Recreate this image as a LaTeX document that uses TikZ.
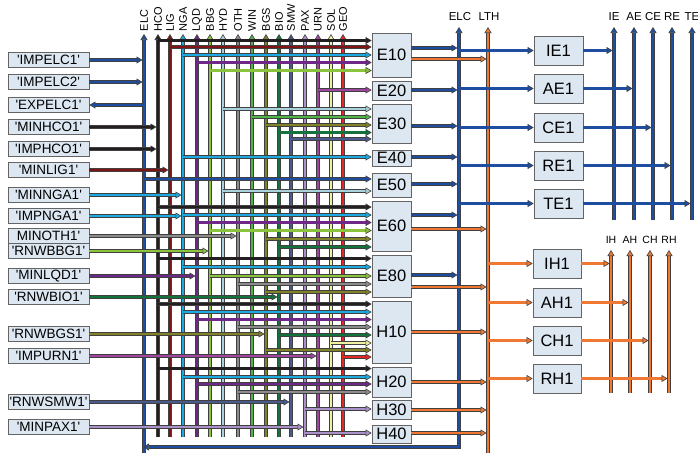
\documentclass[tikz,border=0pt]{standalone}
\usepackage{fontspec}
\setmainfont{Liberation Sans}[Ligatures=TeXOff]
\usetikzlibrary{arrows.meta}
\definecolor{cELC}{RGB}{31,78,160}
\colorlet{cELCR}{cELC}
\definecolor{cHCO}{RGB}{35,31,32}
\definecolor{cLIG}{RGB}{128,20,20}
\definecolor{cNGA}{RGB}{30,170,225}
\definecolor{cLQD}{RGB}{110,40,135}
\definecolor{cBBG}{RGB}{140,195,60}
\definecolor{cHYD}{RGB}{170,210,220}
\definecolor{cOTH}{RGB}{140,140,140}
\definecolor{cWIN}{RGB}{80,180,70}
\definecolor{cBGS}{RGB}{130,130,40}
\definecolor{cBIO}{RGB}{20,115,60}
\definecolor{cSMW}{RGB}{75,90,140}
\definecolor{cPAX}{RGB}{170,145,200}
\definecolor{cURN}{RGB}{160,70,160}
\definecolor{cSOL}{RGB}{240,240,160}
\definecolor{cGEO}{RGB}{230,40,40}
\definecolor{cLTH}{RGB}{240,120,50}
\colorlet{cIE}{cELC}\colorlet{cAE}{cELC}\colorlet{cCE}{cELC}\colorlet{cRE}{cELC}\colorlet{cTE}{cELC}
\colorlet{cIH}{cLTH}\colorlet{cAH}{cLTH}\colorlet{cCH}{cLTH}\colorlet{cRH}{cLTH}
\definecolor{boxfill}{RGB}{221,231,242}
\definecolor{boxline}{RGB}{100,100,100}
\tikzset{
  flow/.style={draw=black!75, line width=0.7pt, double=#1, double distance=2.1pt,
    -{Triangle[length=6pt,width=7pt,fill=#1,line width=0.6pt]}},
  busline/.style={draw=black!75, line width=0.7pt, double=#1, double distance=2.1pt},
  busup/.style={busline=#1, -{Triangle[length=6pt,width=7pt,fill=#1,line width=0.6pt]}},
  srcbox/.style={draw=boxline, fill=boxfill, line width=0.8pt, minimum width=81pt,
    minimum height=15pt, inner sep=0pt, font=\fontsize{13.5}{13.5}\selectfont},
  procbox/.style={draw=boxline, fill=boxfill, line width=0.8pt, minimum width=39pt,
    inner sep=0pt, font=\fontsize{16.5}{16.5}\selectfont},
  dembox/.style={draw=boxline, fill=boxfill, line width=0.8pt, minimum width=49pt,
    minimum height=29pt, inner sep=0pt, font=\fontsize{16.5}{16.5}\selectfont},
  buslabel/.style={font=\fontsize{11}{11}\selectfont, rotate=90, anchor=west, inner sep=0pt},
  toplabel/.style={font=\fontsize{11.5}{11.5}\selectfont, inner sep=0pt},
}
\newcommand\pin[3]{\draw[flow=c#1] (#1 |- 0,#3) -- (#2.west |- 0,#3);}
\newcommand\pout[3]{\draw[flow=c#1, shorten >=1.5pt] (#2.east |- 0,#3) -- (#1 |- 0,#3);}
\newcommand\src[2]{\draw[flow=c#2, shorten >=1.5pt] (#1.east) -- (#1.east -| #2);}
\begin{document}
\begin{tikzpicture}[x=1pt,y=-1pt]
\useasboundingbox (0,0) rectangle (698,453);
% commodity buses (left)
\foreach \n/\x in {ELC/144,HCO/158,LIG/170,NGA/183,LQD/197,BBG/210,HYD/223,OTH/238,WIN/252,BGS/266,BIO/279,SMW/291,PAX/305,URN/318,SOL/331,GEO/343}
  \coordinate (\n) at (\x,34);
% right buses
\coordinate (ELCR) at (459,27);
\coordinate (LTH) at (488,27);
\foreach \n/\x in {IE/614,AE/634,CE/653,RE/672,TE/692} \coordinate (\n) at (\x,27);
\foreach \n/\x in {IH/611,AH/630,CH/650,RH/669} \coordinate (\n) at (\x,250);

% source boxes
\foreach \n/\t/\y in {sIMPELC1/'IMPELC1'/60, sIMPELC2/'IMPELC2'/82, sEXPELC1/'EXPELC1'/105,
  sMINHCO1/'MINHCO1'/127, sIMPHCO1/'IMPHCO1'/149, sMINLIG1/'MINLIG1'/170,
  sMINNGA1/'MINNGA1'/195, sIMPNGA1/'IMPNGA1'/216, sMINOTH1/MINOTH1'/236,
  sRNWBBG1/'RNWBBG1'/251, sMINLQD1/'MINLQD1'/276, sRNWBIO1/'RNWBIO1'/297,
  sRNWBGS1/'RNWBGS1'/334, sIMPURN1/'IMPURN1'/356, sRNWSMW1/'RNWSMW1'/402,
  sMINPAX1/'MINPAX1'/427}
  \node[srcbox] (\n) at (48.5,\y) {\t};

% process boxes
\foreach \n/\y/\h in {E10/55/44, E20/90.5/19, E30/123.5/39, E40/158/16, E50/185/24,
  E60/226/50, E80/276/42, H10/332/62, H20/382/30, H30/409.5/19, H40/434/18}
  \node[procbox, minimum height=\h pt] (\n) at (391.5,\y) {\n};

% demand devices
\foreach \n/\y in {IE1/50.5, AE1/88.5, CE1/127.5, RE1/165.5, TE1/203.5}
  \node[dembox] (\n) at (558.5,\y) {\n};
\foreach \n/\y in {IH1/263.5, AH1/302.5, CH1/340.5, RH1/378.5}
  \node[dembox, minimum width=48pt] (\n) at (557,\y) {\n};

% vertical buses
\draw[busup=cELC] (ELC |- 0,453) -- (ELC);
\foreach \n in {HCO,LIG,NGA,LQD,BBG,HYD,OTH,WIN,BGS,BIO,SMW,PAX,URN,SOL,GEO}
  \draw[busup=c\n] (\n |- 0,437) -- (\n);
\foreach \n in {ELC,HCO,LIG,NGA,LQD,BBG,HYD,OTH,WIN,BGS,BIO,SMW,PAX,URN,SOL,GEO}
  \node[buslabel] (l\n) at (\n |- 0,31.5) {\n};

\draw[busline=cELC, {Triangle[length=6pt,width=7pt,fill=cELC,line width=0.6pt]}-{Triangle[length=6pt,width=7pt,fill=cELC,line width=0.6pt]}, shorten >=-1pt]
  (ELCR) -- (ELCR |- 0,447) -- (ELC |- 0,447);
\draw[busup=cLTH] (LTH |- 0,453) -- (LTH);
\foreach \n in {IE,AE,CE,RE,TE} \draw[busup=c\n] (\n |- 0,220) -- (\n);
\foreach \n in {IH,AH,CH,RH} \draw[busup=c\n] (\n |- 0,393) -- (\n);
\node[toplabel] (lELCR) at (460,17) {ELC};
\node[toplabel] (lLTH) at (489,17) {LTH};
\foreach \n in {IE,AE,CE,RE,TE} \node[toplabel] (l\n) at (\n |- 0,17) {\n};
\foreach \n in {IH,AH,CH,RH} \node[toplabel, font=\fontsize{10.5}{10.5}\selectfont] (l\n) at (\n |- 0,240) {\n};

% source flows
\src{sIMPELC1}{ELC}
\src{sIMPELC2}{ELC}
\draw[flow=cELC] (sEXPELC1.east -| ELC) -- (sEXPELC1.east);
\src{sMINHCO1}{HCO}
\src{sIMPHCO1}{HCO}
\src{sMINLIG1}{LIG}
\src{sMINNGA1}{NGA}
\src{sIMPNGA1}{NGA}
\src{sMINOTH1}{OTH}
\src{sRNWBBG1}{BBG}
\src{sMINLQD1}{LQD}
\src{sRNWBIO1}{BIO}
\src{sRNWBGS1}{BGS}
\src{sIMPURN1}{URN}
\src{sRNWSMW1}{SMW}
\src{sMINPAX1}{PAX}

% process inputs
\pin{HCO}{E10}{40.5} \pin{LIG}{E10}{47} \pin{NGA}{E10}{55} \pin{LQD}{E10}{62.5} \pin{BBG}{E10}{70.5}
\pin{URN}{E20}{90}
\pin{HYD}{E30}{109} \pin{WIN}{E30}{117} \pin{BGS}{E30}{125} \pin{BIO}{E30}{132.5} \pin{SMW}{E30}{139}
\pin{NGA}{E40}{157}
\pin{ELC}{E50}{179} \pin{HYD}{E50}{191}
\pin{HCO}{E60}{207} \pin{NGA}{E60}{215} \pin{LQD}{E60}{222.5} \pin{BBG}{E60}{230.5} \pin{BGS}{E60}{239} \pin{BIO}{E60}{247}
\pin{HCO}{E80}{258.5} \pin{NGA}{E80}{267} \pin{BBG}{E80}{276} \pin{OTH}{E80}{284} \pin{BGS}{E80}{292}
\pin{HCO}{H10}{304} \pin{NGA}{H10}{312} \pin{LQD}{H10}{319.5} \pin{OTH}{H10}{327} \pin{BIO}{H10}{335} \pin{SOL}{H10}{343} \pin{BGS}{H10}{350} \pin{GEO}{H10}{357}
\pin{HCO}{H20}{368.5} \pin{NGA}{H20}{377} \pin{LQD}{H20}{384} \pin{OTH}{H20}{392}
\pin{PAX}{H30}{409}
\pin{PAX}{H40}{433}

% process outputs
\pout{ELCR}{E10}{48} \pout{LTH}{E10}{59}
\pout{ELCR}{E20}{90}
\pout{ELCR}{E30}{126}
\pout{ELCR}{E40}{157}
\pout{ELCR}{E50}{184}
\pout{ELCR}{E60}{215} \pout{LTH}{E60}{229}
\pout{ELCR}{E80}{275} \pout{LTH}{E80}{287}
\pout{LTH}{H10}{332}
\pout{LTH}{H20}{382}
\pout{LTH}{H30}{410}
\pout{LTH}{H40}{433}

% demand devices
\foreach \d/\b in {IE1/IE, AE1/AE, CE1/CE, RE1/RE, TE1/TE}{
  \draw[flow=cELC] (\d.west -| ELCR) -- (\d.west);
  \draw[flow=cELC, shorten >=1.5pt] (\d.east) -- (\d.east -| \b);
}
\foreach \d/\b in {IH1/IH, AH1/AH, CH1/CH, RH1/RH}{
  \draw[flow=cLTH] (\d.west -| LTH) -- (\d.west);
  \draw[flow=cLTH, shorten >=1.5pt] (\d.east) -- (\d.east -| \b);
}
\end{tikzpicture}
\end{document}
